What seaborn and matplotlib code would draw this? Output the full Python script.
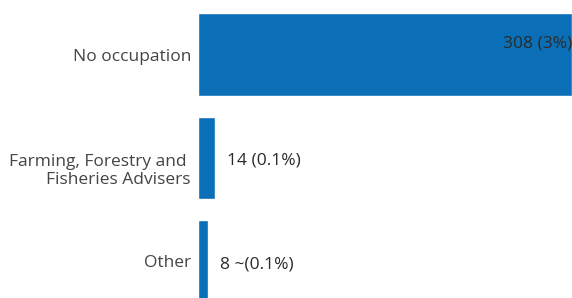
import matplotlib
matplotlib.use("Agg")
import matplotlib.pyplot as plt
import matplotlib.transforms as mtransforms
import seaborn as sns
import pandas as pd

# datos del gráfico
categorias = ["No occupation", "Farming, Forestry and \nFisheries Advisers", "Other"]
valores = [308, 14, 8]
etiquetas = ["308 (3%)", "14 (0.1%)", "8 ~(0.1%)"]

df = pd.DataFrame({"categoria": categorias, "valor": valores})

sns.set_theme(style="white")
plt.rcParams["font.family"] = ["Open Sans", "DejaVu Sans"]

fig = plt.figure(figsize=(5.72, 2.98), dpi=100)
ax = fig.add_axes([0.346, 0.0, 0.654, 1.0])

sns.barplot(data=df, x="valor", y="categoria", color="#0b6fb8", saturation=1,
            width=0.8, ax=ax)

ax.set_xlim(0, 308)
ax.set_ylim(2.353, -0.527)
ax.set_xlabel("")
ax.set_ylabel("")
ax.set_xticks([])
sns.despine(ax=ax, left=True, bottom=True)
ax.tick_params(axis="y", length=0, pad=5, labelsize=12.5, labelcolor="#444444")

# bajar un poco la etiqueta de dos líneas
off = mtransforms.ScaledTranslation(0, -10 / 100, fig.dpi_scale_trans)
lbl = ax.get_yticklabels()[1]
lbl.set_transform(lbl.get_transform() + off)

# etiquetas de valores
for i, (v, t) in enumerate(zip(valores, etiquetas)):
    if i == 0:
        ax.annotate(t, (v, i), xytext=(0, 8), textcoords="offset points",
                    ha="right", va="center", fontsize=12.5, color="#2a2a2a",
                    annotation_clip=False)
    else:
        ax.annotate(t, (v, i), xytext=(9, -2), textcoords="offset points",
                    ha="left", va="center", fontsize=12.5, color="#2a2a2a")

fig.savefig("out.png", dpi=100)
